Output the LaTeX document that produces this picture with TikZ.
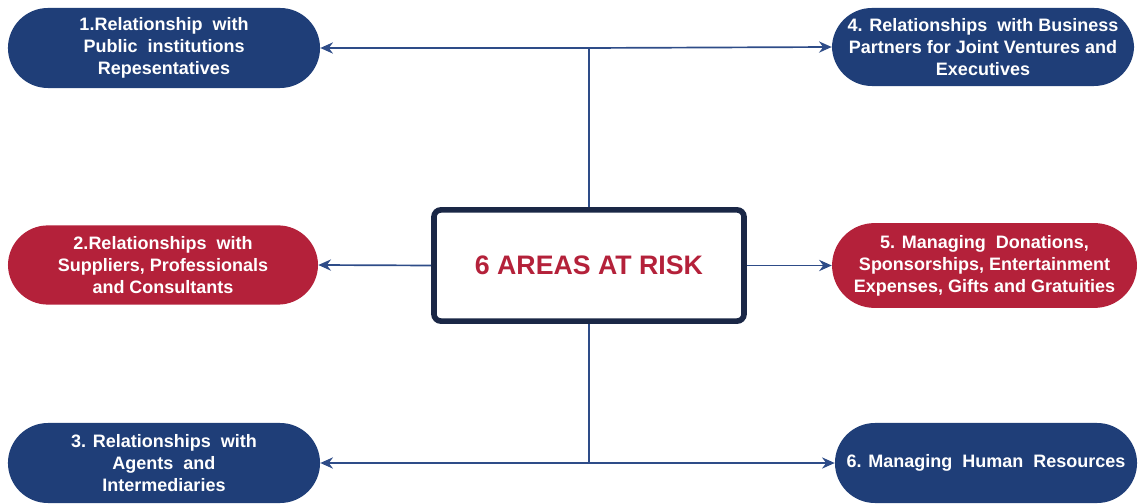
\documentclass[tikz,border=0pt]{standalone}
\usepackage{fontspec}
\setmainfont{Liberation Sans}
\usetikzlibrary{arrows.meta}
\definecolor{navy}{HTML}{1F3E78}
\definecolor{riskred}{HTML}{B4213A}
\definecolor{linec}{HTML}{2E4C88}
\definecolor{boxc}{HTML}{1A2746}
\tikzset{
  pill/.style={fill=#1, draw=none, text=white, font=\bfseries\fontsize{12.8}{15.6}\selectfont,
    align=center, minimum width=7.8cm, minimum height=2.0cm, rounded corners=1cm, inner sep=2pt},
  conn/.style={draw=linec, line width=1.2pt},
  arr/.style={conn, -{Stealth[length=9pt,width=8pt]}},
}
\begin{document}
\begin{tikzpicture}[x=0.025cm, y=-0.025cm]
\useasboundingbox (0,0) rectangle (1139,504);
\node[pill=navy] (n1) at (164,48) {1.Relationship\ \ with\\Public\ \ institutions\\Repesentatives};
\node[pill=navy, minimum width=7.55cm, minimum height=1.95cm] (n4) at (983,47) {4. Relationships\ \ with Business\\Partners for Joint Ventures and\\Executives};
\node[pill=riskred, minimum width=7.75cm, minimum height=1.98cm] (n2) at (163,265) {2.Relationships\ \ with\\Suppliers, Professionals\\and Consultants};
\node[pill=riskred, minimum width=7.62cm, minimum height=2.12cm, rounded corners=1.06cm] (n5) at (984.5,265.5) {5. Managing\ \ Donations,\\Sponsorships, Entertainment\\Expenses, Gifts and Gratuities};
\node[pill=navy] (n3) at (164,463) {3. Relationships\ \ with\\Agents\ \ and\\Intermediaries};
\node[pill=navy, minimum width=7.55cm] (n6) at (986,463) {6. Managing\ \ Human\ \ Resources};
\node[draw=boxc, line width=4pt, rounded corners=5pt, fill=white, minimum width=7.75cm, minimum height=2.78cm,
  text=riskred, font=\bfseries\fontsize{19}{22}\selectfont] (c) at (589,265.5) {6 AREAS AT RISK};
\coordinate (top) at (589,48);
\coordinate (bot) at (589,463);
\draw[conn] (c.north) -- (top);
\draw[conn] (c.south) -- (bot);
\draw[arr] (top) -- (n1.east);
\draw[arr] (top) -- (n4.west);
\draw[arr] (bot) -- (n3.east);
\draw[arr] (bot) -- (n6.west);
\draw[arr] (c.west) -- (n2.east);
\draw[arr] (c.east) -- (n5.west);
\end{tikzpicture}
\end{document}
